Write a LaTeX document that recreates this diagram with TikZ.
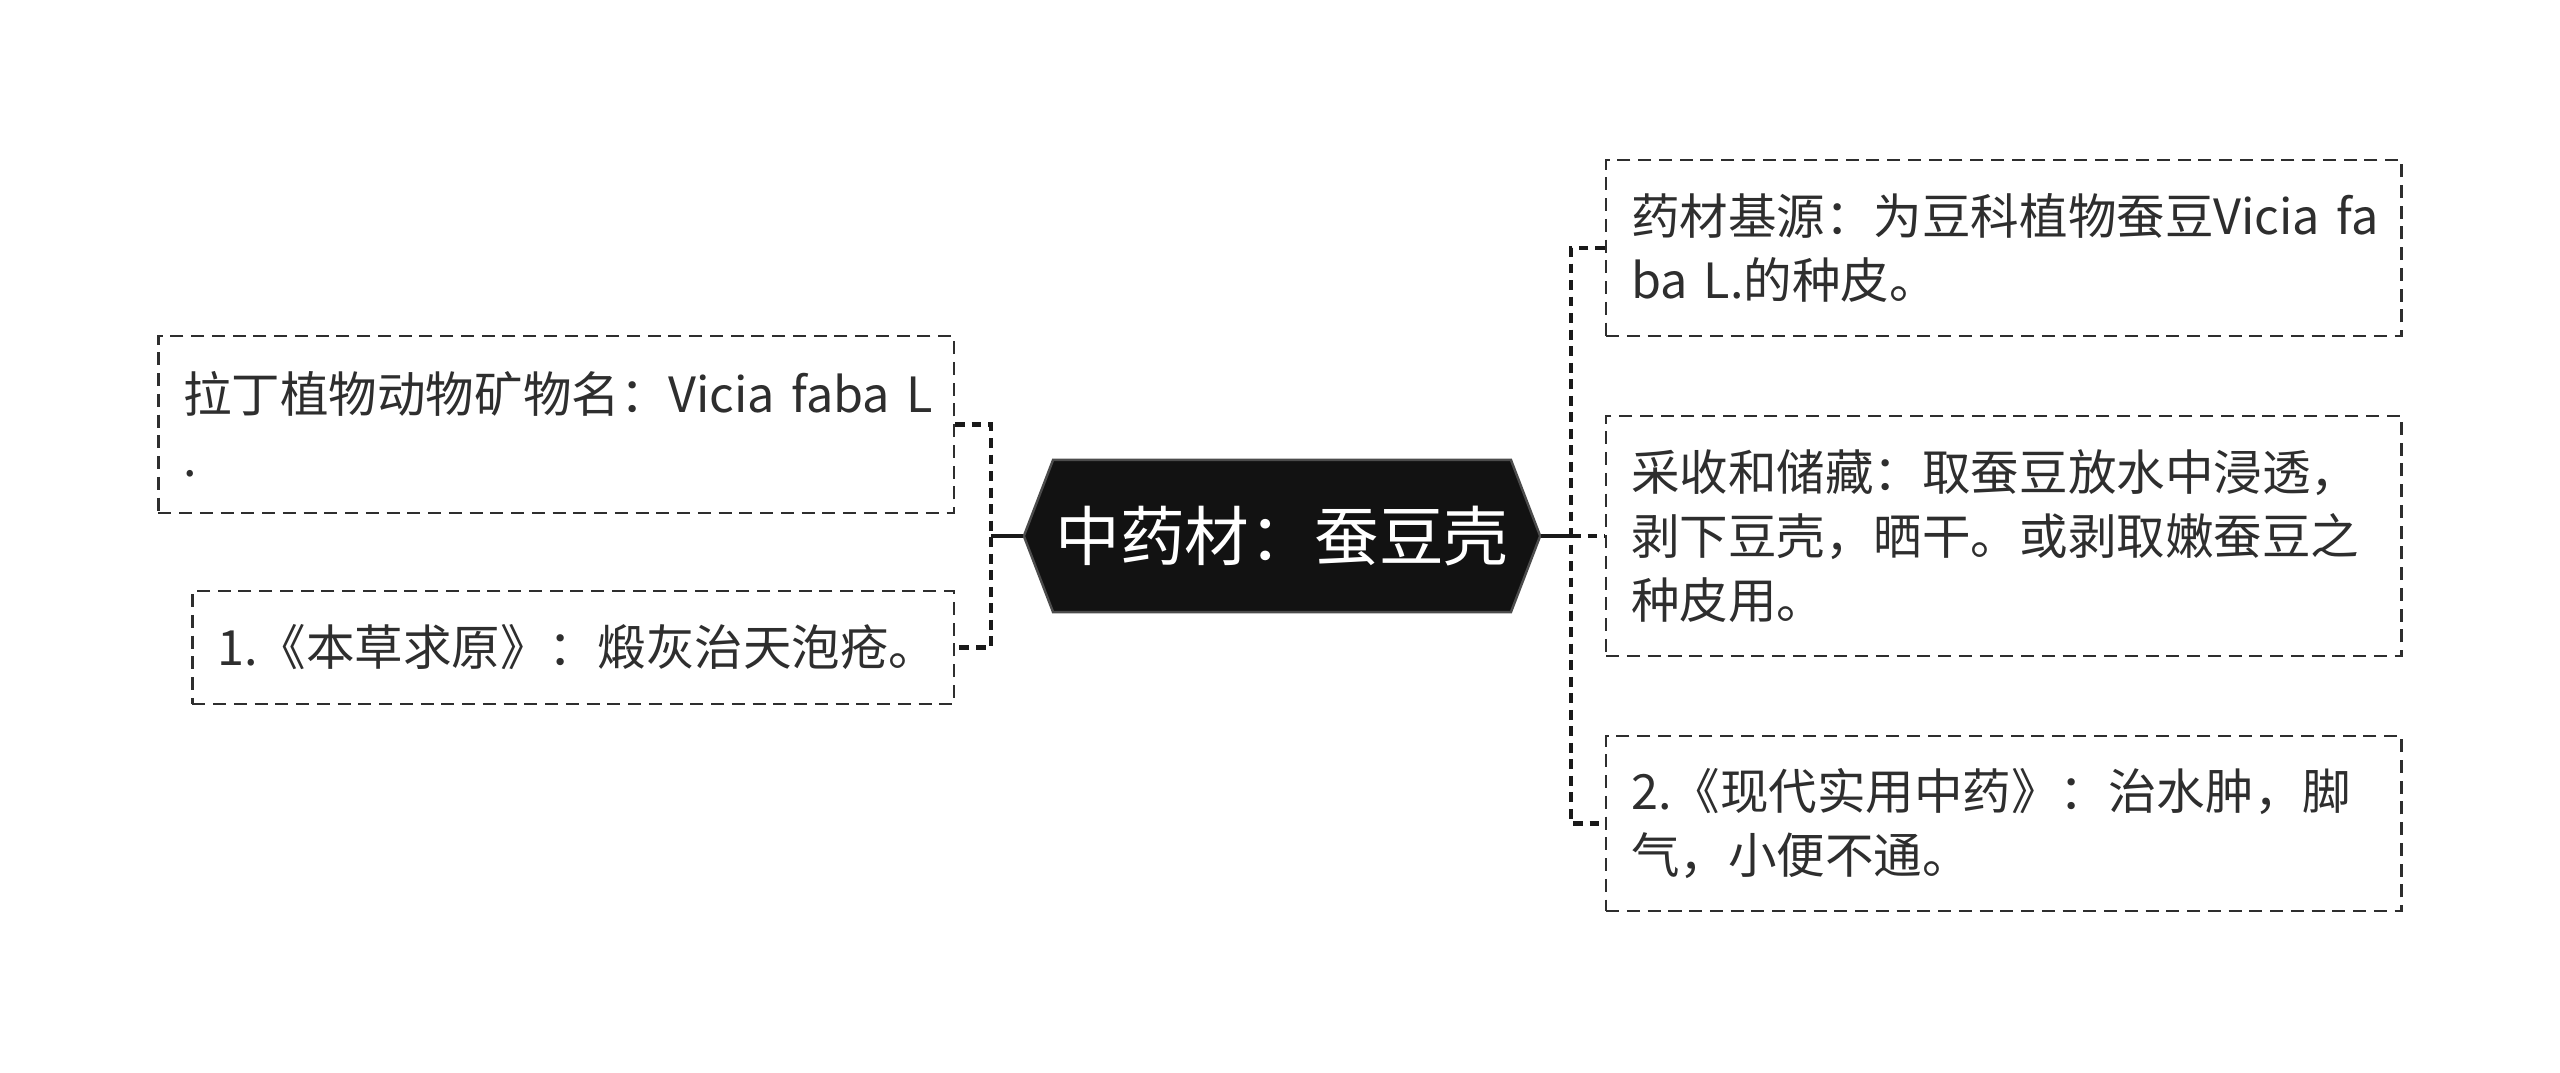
\documentclass[tikz,border=0pt]{standalone}
\usepackage{fontspec}
\setmainfont{Noto Sans CJK SC}
\usetikzlibrary{positioning, shapes.symbols}
\definecolor{leafink}{HTML}{2E2E2E}
\tikzset{
    herbroot/.style={signal, signal to=west and east, signal pointer angle=138, fill=black!93, draw=black!70, line width=0.7pt, minimum width=5.16cm, minimum height=1.52cm, inner sep=0pt, text=white, font=\fontsize{18.4}{22}\selectfont},
    herbleaf/.style={draw=leafink, dash pattern=on 3.7pt off 2.2pt, line width=0.7pt, align=left, inner xsep=0.25cm, inner ysep=0pt, text=leafink, font=\fontsize{13.8}{18.2}\selectfont},
    herbstem/.style={line width=1.3pt, draw=black!90},
    herblink/.style={line width=1.3pt, draw=black!90, dash pattern=on 2.8pt off 1.9pt}
}

\begin{document}
\begin{tikzpicture}[x=0.01cm, y=-0.01cm]
    \useasboundingbox (0,0) rectangle (2560,1072);
    \node[herbroot] (hub) at (1282,536) {中药材：蚕豆壳};

    % Left branch
    \node[herbleaf, anchor=east, text width=7.45cm, minimum height=1.77cm] (latin) at (955,424.5) {拉丁植物动物矿物名：Vicia~faba~L\\.};
    \node[herbleaf, anchor=east, text width=7.11cm, minimum height=1.13cm] (bencao) at (955,647.5) {1.《本草求原》：煅灰治天泡疮。};

    % Right branch
    \node[herbleaf, anchor=west, text width=7.45cm, minimum height=1.76cm] (source) at (1605,248) {药材基源：为豆科植物蚕豆Vicia~fa\\ba~L.的种皮。};
    \node[herbleaf, anchor=west, text width=7.45cm, minimum height=2.40cm] (harvest) at (1605,536) {采收和储藏：取蚕豆放水中浸透，\\剥下豆壳，晒干。或剥取嫩蚕豆之\\种皮用。};
    \node[herbleaf, anchor=west, text width=7.45cm, minimum height=1.75cm] (modern) at (1605,823.5) {2.《现代实用中药》：治水肿，脚\\气，小便不通。};

    \coordinate (lj) at (991,536);
    \coordinate (rj) at (1571,536);

    % Connectors
    \draw[herbstem] (hub.west) -- (lj);
    \draw[herblink] (latin.east) -| (lj) |- (bencao.east);
    \draw[herbstem] (hub.east) -- (rj);
    \draw[herblink] (source.west) -| (rj) |- (modern.west);
    \draw[herblink] (rj) -- (harvest.west);
\end{tikzpicture}
\end{document}
